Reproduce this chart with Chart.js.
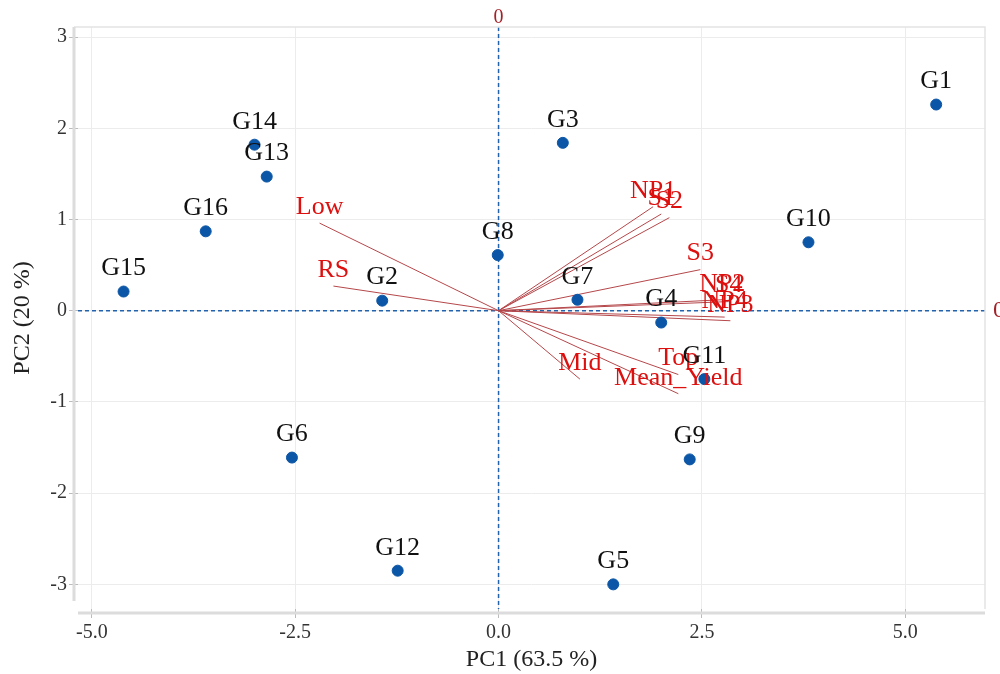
<!DOCTYPE html>
<html>
<head>
<meta charset="utf-8">
<script src="https://cdn.jsdelivr.net/npm/chart.js@4/dist/chart.umd.min.js"></script>
<style>
  html, body { margin: 0; padding: 0; background: #fff; }
  #wrap { width: 1000px; height: 674px; }
</style>
</head>
<body>
<div id="wrap"><canvas id="biplot"></canvas></div>
<script>
// genotype scores
const genotypes = ['G1', 'G2', 'G3', 'G4', 'G5', 'G6', 'G7', 'G8', 'G9', 'G10', 'G11', 'G12', 'G13', 'G14', 'G15', 'G16'];
const pc1 = [5.38, -1.43, 0.79, 2.00, 1.41, -2.54, 0.97, -0.01, 2.35, 3.81, 2.53, -1.24, -2.85, -3.00, -4.61, -3.60];
const pc2 = [2.26, 0.11, 1.84, -0.13, -3.00, -1.61, 0.12, 0.61, -1.63, 0.75, -0.75, -2.85, 1.47, 1.82, 0.21, 0.87];

// trait loadings (scaled)
const traits = ['Low', 'RS', 'NP1', 'S1', 'S2', 'S3', 'NP2', 'S4', 'NP4', 'NP3', 'Top', 'Mean_Yield', 'Mid'];
const load1 = [-2.20, -2.03, 1.90, 2.00, 2.10, 2.48, 2.75, 2.83, 2.78, 2.85, 2.21, 2.21, 1.00];
const load2 = [0.96, 0.27, 1.14, 1.06, 1.02, 0.45, 0.12, 0.10, -0.07, -0.11, -0.70, -0.91, -0.75];

const xTicks = [-5, -2.5, 0, 2.5, 5];
const yTicks = [-3, -2, -1, 0, 1, 2, 3];

const serif = '"Liberation Serif", "DejaVu Serif", serif';

const vectorSets = traits.map((t, i) => ({
  label: t,
  data: [{ x: 0, y: 0 }, { x: load1[i], y: load2[i] }],
  showLine: true,
  borderColor: '#b5474a',
  borderWidth: 1,
  pointRadius: 0,
  order: 2
}));

const labelPlugin = {
  id: 'labels',
  beforeDatasetsDraw(chart) {
    const { ctx, chartArea, scales: { x, y } } = chart;
    const x0 = x.getPixelForValue(0);
    const y0 = y.getPixelForValue(0);
    ctx.save();
    ctx.strokeStyle = '#2363ad';
    ctx.lineWidth = 1.5;
    ctx.setLineDash([4, 3]);
    ctx.beginPath();
    ctx.moveTo(x0, chartArea.top);
    ctx.lineTo(x0, chartArea.bottom);
    ctx.moveTo(chartArea.left, y0);
    ctx.lineTo(chartArea.right, y0);
    ctx.stroke();
    ctx.restore();
  },
  afterDatasetsDraw(chart) {
    const { ctx, chartArea, scales: { x, y } } = chart;
    ctx.save();
    ctx.textAlign = 'center';
    ctx.textBaseline = 'middle';

    // trait names
    ctx.font = '26px ' + serif;
    ctx.fillStyle = '#dd1010';
    traits.forEach((t, i) => {
      ctx.fillText(t, x.getPixelForValue(load1[i]), y.getPixelForValue(load2[i]) - 16);
    });

    // genotype names
    ctx.fillStyle = '#111';
    genotypes.forEach((g, i) => {
      ctx.fillText(g, x.getPixelForValue(pc1[i]), y.getPixelForValue(pc2[i]) - 23);
    });

    // zero markers
    ctx.font = '20px ' + serif;
    ctx.fillStyle = '#a3222a';
    ctx.fillText('0', x.getPixelForValue(0), chartArea.top - 9);
    ctx.font = '24px ' + serif;
    ctx.textAlign = 'left';
    ctx.fillText('0', chartArea.right + 8, y.getPixelForValue(0));

    // frame
    ctx.strokeStyle = '#e4e4e4';
    ctx.lineWidth = 1.5;
    ctx.beginPath();
    ctx.moveTo(chartArea.left - 4, chartArea.top);
    ctx.lineTo(chartArea.right, chartArea.top);
    ctx.lineTo(chartArea.right, chartArea.bottom);
    ctx.stroke();
    ctx.strokeStyle = '#dcdcdc';
    ctx.lineWidth = 3;
    ctx.beginPath();
    ctx.moveTo(chartArea.left, chartArea.bottom + 4);
    ctx.lineTo(chartArea.right, chartArea.bottom + 4);
    ctx.moveTo(chartArea.left - 4, chartArea.top);
    ctx.lineTo(chartArea.left - 4, chartArea.bottom - 8);
    ctx.stroke();
    ctx.restore();
  }
};

new Chart(document.getElementById('biplot'), {
  type: 'scatter',
  data: {
    datasets: [
      {
        label: 'Genotypes',
        data: pc1.map((v, i) => ({ x: v, y: pc2[i] })),
        backgroundColor: '#0b56a6',
        borderColor: '#0b56a6',
        pointRadius: 5.5,
        order: 1
      },
      ...vectorSets
    ]
  },
  options: {
    responsive: true,
    maintainAspectRatio: false,
    animation: false,
    layout: { padding: { top: 27, right: 15, left: 0, bottom: 0 } },
    plugins: { legend: { display: false }, tooltip: { enabled: false } },
    scales: {
      x: {
        type: 'linear',
        min: -5.17,
        max: 5.98,
        afterBuildTicks: s => { s.ticks = xTicks.map(v => ({ value: v })); },
        afterFit: s => { s.height = 65; },
        grid: { color: '#ececec', tickColor: '#bbbbbb', tickLength: 9, drawTicks: true },
        border: { display: false },
        ticks: {
          color: '#333',
          font: { family: serif, size: 20 },
          padding: 3,
          callback: v => v.toFixed(1)
        },
        title: {
          display: true,
          text: 'PC1 (63.5 %)',
          color: '#222',
          font: { family: serif, size: 24 },
          padding: { top: 0, bottom: 0 }
        }
      },
      y: {
        type: 'linear',
        min: -3.27,
        max: 3.11,
        afterBuildTicks: s => { s.ticks = yTicks.map(v => ({ value: v })); },
        afterFit: s => { s.width = 78; },
        grid: { color: '#ececec', tickColor: '#bbbbbb', tickLength: 9, drawTicks: true },
        border: { display: false },
        ticks: {
          color: '#333',
          font: { family: serif, size: 20 },
          padding: 2
        },
        title: {
          display: true,
          text: 'PC2 (20 %)',
          color: '#222',
          font: { family: serif, size: 24 },
          padding: { top: 8, bottom: 6 }
        }
      }
    }
  },
  plugins: [labelPlugin]
});
</script>
</body>
</html>
